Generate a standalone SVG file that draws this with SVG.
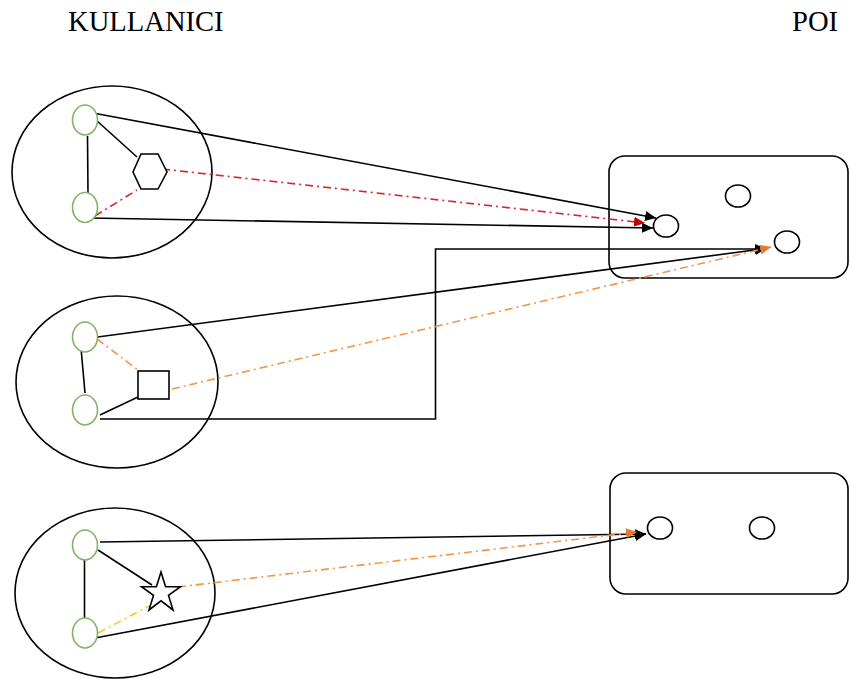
<svg xmlns="http://www.w3.org/2000/svg" width="850" height="679" viewBox="0 0 850 679">
<style>
.t{font-family:"Liberation Serif","Times New Roman",serif;font-size:28.6px;fill:#000}
.shape{fill:#fff;stroke:#000;stroke-width:1.6}
.grp{fill:none;stroke:#000;stroke-width:1.6}
.user{fill:#fff;stroke:#82b366;stroke-width:1.6}
.ln{fill:none;stroke:#000;stroke-width:1.6}
.red{fill:none;stroke:#d6282b;stroke-width:1.6;stroke-dasharray:8 4 2 4}
.org{fill:none;stroke:#f4954a;stroke-width:1.6;stroke-dasharray:8 4 2 4}
.yel{fill:none;stroke:#ffc425;stroke-width:1.6;stroke-dasharray:8 4 2 4}
</style>
<defs>
<marker id="aB" markerWidth="12" markerHeight="10" refX="11" refY="5" orient="auto" markerUnits="userSpaceOnUse"><path d="M0,0 L11,5 L0,10 Z" fill="#000"/></marker>
<marker id="aR" markerWidth="12" markerHeight="10" refX="11" refY="5" orient="auto" markerUnits="userSpaceOnUse"><path d="M0,0 L11,5 L0,10 Z" fill="#c00000"/></marker>
<marker id="aO" markerWidth="12" markerHeight="10" refX="11" refY="5" orient="auto" markerUnits="userSpaceOnUse"><path d="M0,0 L11,5 L0,10 Z" fill="#e8792a"/></marker>
</defs>
<rect width="850" height="679" fill="#fff"/>
<text class="t" x="68" y="31">KULLANICI</text>
<text class="t" x="792" y="31">POI</text>

<g id="users1">
<ellipse class="grp" cx="112" cy="172" rx="100" ry="86"/>
</g>
<g id="users2">
<ellipse class="grp" cx="117" cy="382" rx="101" ry="86"/>
</g>
<g id="users3">
<ellipse class="grp" cx="115" cy="593" rx="100" ry="85"/>
</g>
<g id="poi1">
<rect class="grp" x="609" y="156" width="239" height="122" rx="16"/>
<ellipse class="shape" cx="738" cy="196" rx="12.5" ry="11"/>
<ellipse class="shape" cx="787" cy="242" rx="12.5" ry="11"/>
</g>
<g id="poi2">
<rect class="grp" x="610" y="473" width="238" height="121" rx="16"/>
<ellipse class="shape" cx="762" cy="528" rx="12.5" ry="11"/>
</g>

<g id="connectors">
<line class="ln" x1="87.5" y1="136" x2="88" y2="193"/>
<line class="ln" x1="96" y1="120" x2="137" y2="157"/>
<line class="red" x1="95" y1="216" x2="137" y2="190"/>
<line class="ln" x1="93" y1="113" x2="656" y2="218" marker-end="url(#aB)"/>
<line class="ln" x1="90" y1="218" x2="653" y2="228" marker-end="url(#aB)"/>
<line class="red" x1="162" y1="169" x2="645" y2="223" marker-end="url(#aR)"/>
<line class="ln" x1="81" y1="348" x2="85" y2="393"/>
<line class="ln" x1="100" y1="415" x2="138" y2="397"/>
<line class="org" x1="97" y1="339" x2="138" y2="370"/>
<polyline class="ln" points="100,419 435.5,419 435.5,249 766,249" marker-end="url(#aB)"/>
<line class="ln" x1="90" y1="338" x2="766" y2="248.5" marker-end="url(#aB)"/>
<line class="org" x1="172" y1="389" x2="771" y2="247" marker-end="url(#aO)"/>
<line class="ln" x1="84.5" y1="557" x2="84.5" y2="618"/>
<line class="ln" x1="98" y1="550" x2="152" y2="585"/>
<line class="yel" x1="98" y1="633" x2="153" y2="604"/>
<line class="ln" x1="100" y1="542" x2="646" y2="534" marker-end="url(#aB)"/>
<line class="ln" x1="95" y1="638" x2="646" y2="534" marker-end="url(#aB)"/>
<line class="org" x1="178" y1="587" x2="637" y2="532" marker-end="url(#aO)"/>
</g>

<g id="u1a"><ellipse class="user" cx="85" cy="120" rx="12.5" ry="15"/></g>
<g id="u1b"><ellipse class="user" cx="85" cy="207.5" rx="12.5" ry="15"/></g>
<g id="hex"><polygon class="shape" points="133,172 141,154 158,154 167,172 158,189 141,189"/></g>
<g id="u2a"><ellipse class="user" cx="85" cy="337" rx="12.5" ry="15"/></g>
<g id="u2b"><ellipse class="user" cx="85" cy="410" rx="12.5" ry="15"/></g>
<g id="square"><rect class="shape" x="138" y="371" width="31" height="28"/></g>
<g id="u3a"><ellipse class="user" cx="85" cy="545" rx="12.5" ry="15"/></g>
<g id="u3b"><ellipse class="user" cx="85" cy="633" rx="12.5" ry="15"/></g>
<g id="star"><polygon class="shape" points="161,572 165.6,586.7 180.5,586.7 168.5,595.4 173,610 161,600.8 149,610 153.5,595.4 141.5,586.7 156.4,586.7"/></g>
<g id="p1a"><ellipse class="shape" cx="666" cy="226" rx="12.5" ry="11"/></g>
<g id="p2a"><ellipse class="shape" cx="660" cy="528" rx="12.5" ry="11"/></g>
</svg>
